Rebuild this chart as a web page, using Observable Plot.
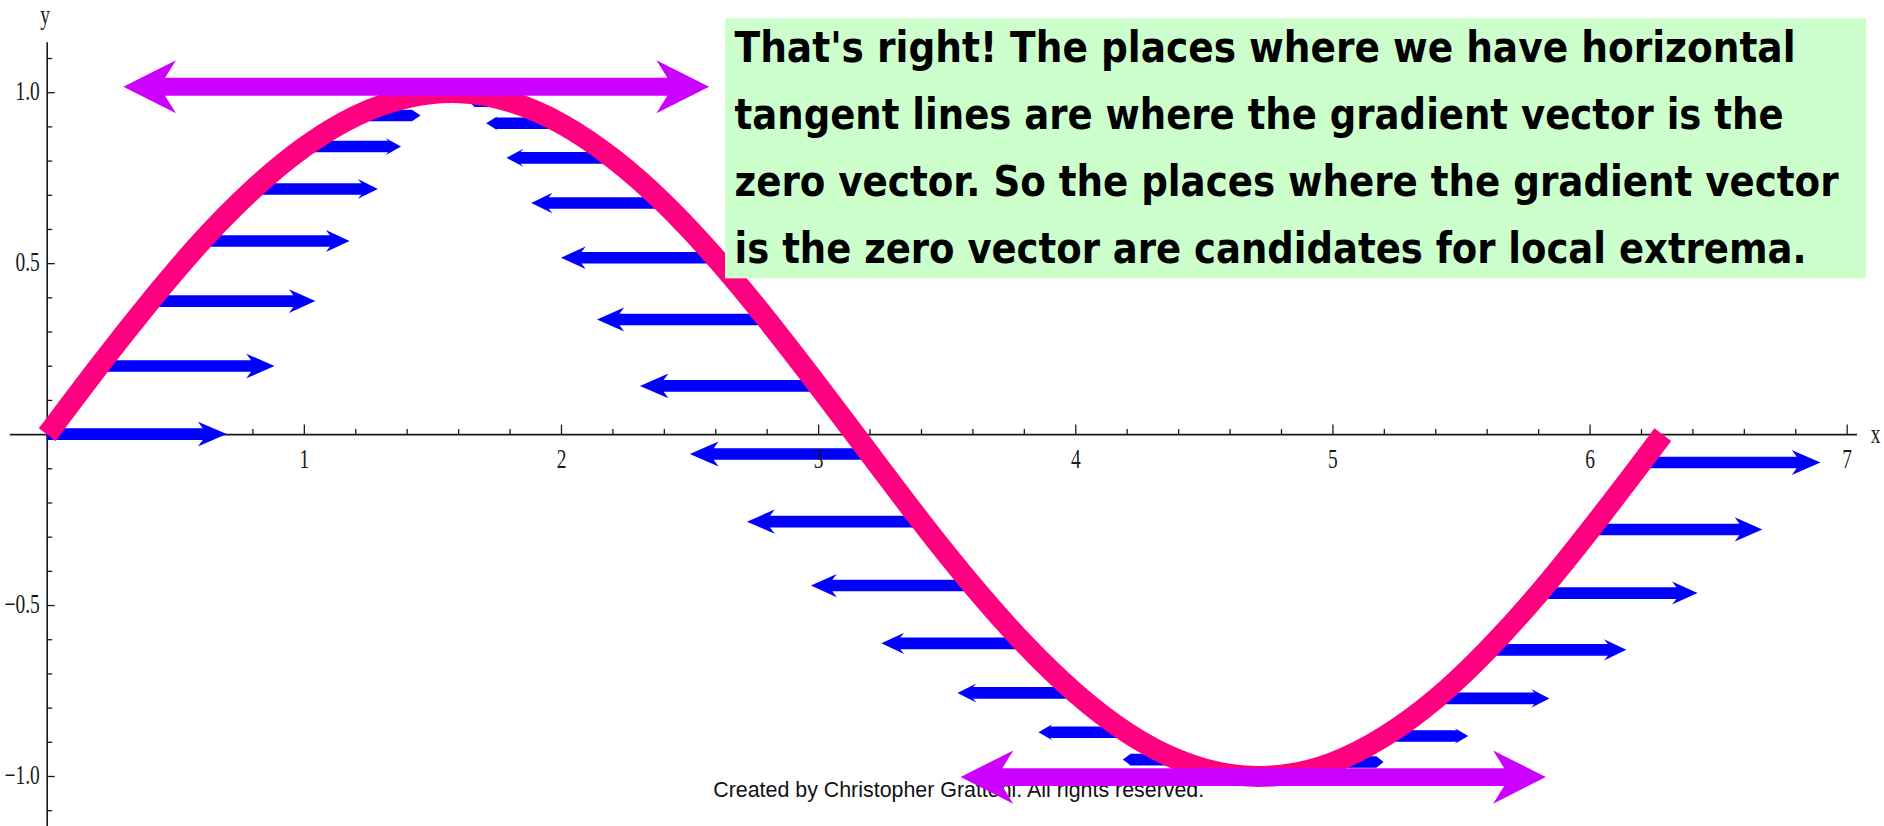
<!DOCTYPE html>
<html>
<head>
<meta charset="utf-8">
<script src="https://cdn.jsdelivr.net/npm/d3@7"></script>
<script src="https://cdn.jsdelivr.net/npm/@observablehq/plot@0.6"></script>
<style>
  html, body { margin: 0; padding: 0; background: #fff; overflow: hidden; }
  #chart svg { display: block; }
</style>
</head>
<body>
<div id="chart"></div>
<script>
// ---- data ----
// sample points on the pink curve (also the tails of the blue gradient arrows)
const sampleX = [0, 0.2, 0.4, 0.6, 0.8, 1.0, 1.2, 1.4, 1.6, 1.8, 2.0, 2.2, 2.4, 2.6, 2.8, 3.0,
                 3.2, 3.4, 3.6, 3.8, 4.0, 4.2, 4.4, 4.6, 4.8, 5.0, 5.2, 5.4, 5.6, 5.8, 6.0, 6.2];
const sampleY = [0, 0.199, 0.389, 0.565, 0.717, 0.841, 0.932, 0.985, 1.0, 0.974, 0.909, 0.808, 0.676, 0.516, 0.335, 0.141,
                 -0.058, -0.256, -0.443, -0.612, -0.757, -0.872, -0.952, -0.994, -0.996, -0.959, -0.883, -0.773, -0.631, -0.465, -0.279, -0.083];
// horizontal length of each blue arrow (x units, negative = pointing left)
const gradDX = [0.70, 0.686, 0.645, 0.578, 0.488, 0.378, 0.254, 0.119, -0.02, -0.159, -0.291, -0.412, -0.516, -0.600, -0.660, -0.693,
                -0.699, -0.677, -0.628, -0.554, -0.458, -0.343, -0.215, -0.079, 0.061, 0.199, 0.328, 0.444, 0.543, 0.620, 0.672, 0.698];
const curveEndX = [6.283];
const curveEndY = [0];

// horizontal tangent lines (double-headed magenta arrows)
const tangentX1 = [0.298, 3.554];
const tangentX2 = [2.576, 5.830];
const tangentY  = [1.016, -1.003];

// axes ticks and labels
const xMajorTicks = [1, 2, 3, 4, 5, 6, 7];
const xMajorLabels = ["1", "2", "3", "4", "5", "6", "7"];
const xMinorTicks = [0.2, 0.4, 0.6, 0.8, 1.2, 1.4, 1.6, 1.8, 2.2, 2.4, 2.6, 2.8, 3.2, 3.4, 3.6, 3.8,
                     4.2, 4.4, 4.6, 4.8, 5.2, 5.4, 5.6, 5.8, 6.2, 6.4, 6.6, 6.8];
const yMajorTicks = [-1, -0.5, 0.5, 1];
const yMajorLabels = ["\u22121.0", "\u22120.5", "0.5", "1.0"];
const yMinorTicks = [-1.1, -0.9, -0.8, -0.7, -0.6, -0.4, -0.3, -0.2, -0.1, 0.1, 0.2, 0.3, 0.4, 0.6, 0.7, 0.8, 0.9, 1.1];
const axisNames = ["x", "y"];

// texts
const noteLines = [
  "That's right! The places where we have horizontal",
  "tangent lines are where the gradient vector is the",
  "zero vector. So the places where the gradient vector",
  "is the zero vector are candidates for local extrema."
];
const captionText = ["Created by Christopher Grattoni. All rights reserved."];

// ---- derived tables ----
const curve = sampleX.map((x, i) => ({x, y: sampleY[i]}))
  .concat(curveEndX.map((x, i) => ({x, y: curveEndY[i]})));
const vectors = sampleX.map((x, i) => ({x, y: sampleY[i], dx: gradDX[i]}));
const tangents = tangentX1.map((x1, i) => ({x1, x2: tangentX2[i], y: tangentY[i]}));

// annotation layout (data units)
const NOTE = {x1: 2.638, x2: 7.075, y1: 0.4555, y2: 1.2166, textX: 2.673, baseline: 1.090, step: 0.1964};
// rendered widths (px) of texts in the picture, and their vertical stretch
const noteWidths = [1061, 1049, 1104, 1072];
const noteStretch = 1.16;
const captionWidth = 491;
const tickCondense = 0.72;

const INK = "#1a1a1a";
const PINK = "#ff0080";
const BLUE = "#0000ff";
const MAGENTA = "#cc00ff";
const GREEN = "#ccffcc";

function singleArrow(x0, x1, y, shaft, headLen, headHalf, notch) {
  const s = Math.sign(x1 - x0) || 1;
  const bx = x1 - s * headLen, nx = x1 - s * notch;
  return `M${x0},${y - shaft}L${nx},${y - shaft}L${bx},${y - headHalf}L${x1},${y}` +
         `L${bx},${y + headHalf}L${nx},${y + shaft}L${x0},${y + shaft}Z`;
}
function doubleArrow(xa, xb, y, shaft, headLen, headHalf, notch) {
  return `M${xa},${y}L${xa + headLen},${y - headHalf}L${xa + notch},${y - shaft}` +
         `L${xb - notch},${y - shaft}L${xb - headLen},${y - headHalf}L${xb},${y}` +
         `L${xb - headLen},${y + headHalf}L${xb - notch},${y + shaft}L${xa + notch},${y + shaft}` +
         `L${xa + headLen},${y + headHalf}Z`;
}

function gradientArrows(index, scales) {
  const {x, y} = scales;
  const g = d3.create("svg:g").attr("aria-label", "gradient vectors").attr("fill", BLUE);
  g.selectAll("path").data(vectors).join("path")
    .attr("d", d => {
      const x0 = x(d.x), x1 = x(d.x + d.dx), yy = y(d.y);
      const L = Math.abs(x1 - x0);
      const hl = 0.16 * L;
      return singleArrow(x0, x1, yy, 5.8, hl, Math.max(6.5, 4 + 0.047 * L), 0.83 * hl);
    });
  return g.node();
}

function tangentArrows(index, scales) {
  const {x, y} = scales;
  const g = d3.create("svg:g").attr("aria-label", "tangent lines").attr("fill", MAGENTA);
  g.selectAll("path").data(tangents).join("path")
    .attr("d", d => doubleArrow(x(d.x1), x(d.x2), y(d.y), 8.9, 52.7, 26.6, 41.7));
  return g.node();
}

const serif = {fontSize: 27, fontFamily: "Liberation Serif", fill: INK};

const chart = Plot.plot({
  width: 1884,
  height: 826,
  margin: 0,
  x: {axis: null, domain: [0, 7], range: [46.7, 1846.7]},
  y: {axis: null, domain: [-1, 1], range: [776, 92.2]},
  marks: [
    // axes through the origin
    Plot.ruleY([0], {x1: -0.1435, x2: 7.04, stroke: INK, strokeWidth: 1.6}),
    Plot.ruleX([0], {y1: -1.4, y2: 1.146, stroke: INK, strokeWidth: 1.6}),
    Plot.ruleX(xMajorTicks, {x: d => d, y1: 0, y2: 0, insetTop: -9.5, stroke: INK, strokeWidth: 1.3}),
    Plot.ruleX(xMinorTicks, {x: d => d, y1: 0, y2: 0, insetTop: -5, stroke: INK, strokeWidth: 1.3}),
    Plot.ruleY(yMajorTicks, {y: d => d, x1: 0, x2: 0, insetRight: -8, stroke: INK, strokeWidth: 1.3}),
    Plot.ruleY(yMinorTicks, {y: d => d, x1: 0, x2: 0, insetRight: -5.5, stroke: INK, strokeWidth: 1.3}),
    // gradient vectors
    gradientArrows,
    // tick labels
    Plot.text(xMajorTicks, {x: d => d, y: 0, text: (d, i) => xMajorLabels[i], lineAnchor: "bottom", dy: 33.5, ...serif}),
    Plot.text(yMajorTicks, {x: 0, y: d => d, text: (d, i) => yMajorLabels[i], textAnchor: "end", lineAnchor: "bottom",
      dx: -7.4, dy: 7.3, ...serif}),
    Plot.text([axisNames[0]], {x: 7.11, y: 0, text: d => d, lineAnchor: "bottom", dy: 8.7, ...serif}),
    Plot.text([axisNames[1]], {x: 0, y: 1.207, text: d => d, lineAnchor: "bottom", dx: -2, dy: 2.5, ...serif}),
    // the function curve
    Plot.line(curve, {x: "x", y: "y", stroke: PINK, strokeWidth: 21, curve: "natural",
      strokeLinecap: "butt", strokeLinejoin: "round"}),
    // caption
    Plot.text(captionText, {x: 2.590, y: -1.060, text: d => d, textAnchor: "start", lineAnchor: "bottom",
      fontSize: 22, fontFamily: "Liberation Sans", fill: "#111"}),
    // horizontal tangent lines
    tangentArrows,
    // note box
    Plot.rect([NOTE], {x1: "x1", x2: "x2", y1: "y1", y2: "y2", fill: GREEN}),
    Plot.text(noteLines, {x: NOTE.textX, y: (d, i) => NOTE.baseline - i * NOTE.step, text: d => d,
      textAnchor: "start", lineAnchor: "bottom", fontSize: 37, fontWeight: "bold",
      fontFamily: "DejaVu Sans", fill: "#000"})
  ]
});

document.getElementById("chart").append(chart);

// squeeze / stretch texts like in the picture
try {
  const tickSet = new Set([...xMajorLabels, ...yMajorLabels, ...axisNames]);
  chart.querySelectorAll("text").forEach(t => {
    const s = t.textContent;
    let target = null;
    const k = noteLines.indexOf(s);
    if (k >= 0) {
      target = noteWidths[k];
      const tr = t.getAttribute("transform") || "";
      t.setAttribute("transform", `${tr} scale(1,${noteStretch})`);
    }
    else if (s === captionText[0]) target = captionWidth;
    else if (tickSet.has(s)) target = t.getComputedTextLength() * tickCondense;
    if (target != null) {
      t.setAttribute("textLength", target.toFixed(1));
      t.setAttribute("lengthAdjust", "spacingAndGlyphs");
    }
  });
} catch (e) {
  console.error(e);
}
</script>
</body>
</html>
